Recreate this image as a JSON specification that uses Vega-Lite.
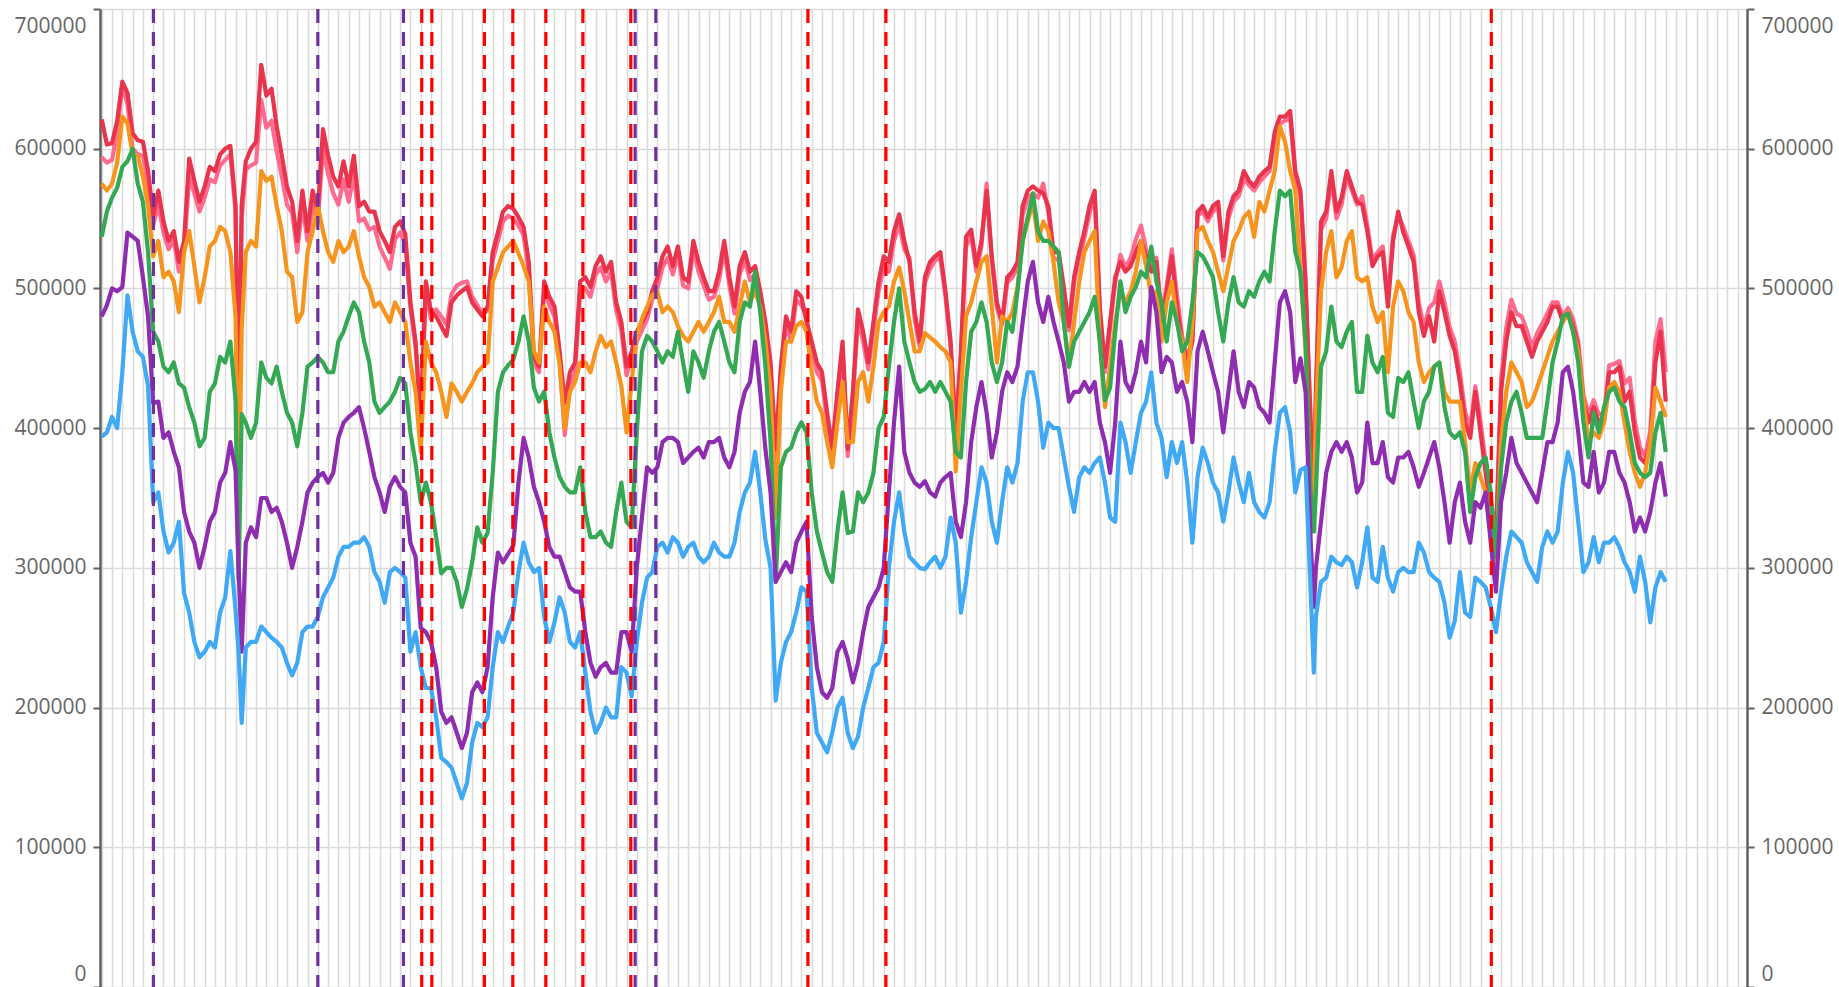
{
"$schema": "https://vega.github.io/schema/vega-lite/v6.json",
"width": 1647, "height": 978,
"autosize": {"type": "none"},
"padding": {"left": 100, "top": 9, "right": 92, "bottom": 0},
"background": "white",
"config": {
  "view": {"stroke": null},
  "axisX": {"grid": true, "labels": false, "ticks": false, "domain": false, "tickCount": 160, "gridColor": "#dadada", "gridWidth": 1.5},
  "axisY": {"tickCount": 7, "format": "d", "labelFont": "Open Sans", "labelFontSize": 21, "labelColor": "#666666", "domainColor": "#606060", "domainWidth": 2.5, "tickColor": "#606060", "tickSize": 7, "tickWidth": 2, "labelPadding": 7, "labelFlush": true, "gridColor": "#dadada", "gridWidth": 1.5,
            "labelOffset": {"condition": [{"test": "datum.value == 700000", "value": 6}, {"test": "datum.value == 0", "value": -3}], "value": 0}}
},
"datasets": {
"d": [
{"t":0,"p":594000,"r":621000,"o":575000,"g":537000,"v":480000,"b":394000},
{"t":0.5,"p":590000,"r":603000,"o":570000,"g":555000,"v":488000,"b":397000},
{"t":1,"p":592000,"r":604000,"o":575000,"g":565000,"v":500000,"b":408000},
{"t":1.5,"p":612000,"r":620000,"o":590000,"g":572000,"v":498000,"b":400000},
{"t":2,"p":645000,"r":648000,"o":623000,"g":587000,"v":501000,"b":440000},
{"t":2.5,"p":632000,"r":640000,"o":618000,"g":591000,"v":540000,"b":495000},
{"t":3,"p":600000,"r":611000,"o":596000,"g":600000,"v":537000,"b":469000},
{"t":3.5,"p":596000,"r":606000,"o":595000,"g":575000,"v":534000,"b":455000},
{"t":4,"p":595000,"r":605000,"o":580000,"g":562000,"v":508000,"b":451000},
{"t":4.5,"p":575000,"r":584000,"o":559000,"g":526000,"v":480000,"b":430000},
{"t":5,"p":545000,"r":552000,"o":523000,"g":469000,"v":418000,"b":347000},
{"t":5.5,"p":560000,"r":570000,"o":534000,"g":462000,"v":419000,"b":354000},
{"t":6,"p":540000,"r":548000,"o":508000,"g":444000,"v":393000,"b":326000},
{"t":6.5,"p":528000,"r":534000,"o":512000,"g":440000,"v":397000,"b":311000},
{"t":7,"p":535000,"r":541000,"o":505000,"g":447000,"v":383000,"b":318000},
{"t":7.5,"p":512000,"r":519000,"o":483000,"g":432000,"v":372000,"b":333000},
{"t":8,"p":526000,"r":534000,"o":526000,"g":429000,"v":340000,"b":282000},
{"t":8.5,"p":580000,"r":593000,"o":541000,"g":415000,"v":326000,"b":268000},
{"t":9,"p":568000,"r":577000,"o":516000,"g":404000,"v":318000,"b":247000},
{"t":9.5,"p":555000,"r":562000,"o":490000,"g":387000,"v":300000,"b":236000},
{"t":10,"p":565000,"r":573000,"o":508000,"g":393000,"v":315000,"b":240000},
{"t":10.5,"p":578000,"r":587000,"o":530000,"g":426000,"v":333000,"b":247000},
{"t":11,"p":576000,"r":584000,"o":534000,"g":432000,"v":340000,"b":243000},
{"t":11.5,"p":588000,"r":596000,"o":544000,"g":451000,"v":361000,"b":268000},
{"t":12,"p":592000,"r":600000,"o":541000,"g":447000,"v":368000,"b":279000},
{"t":12.5,"p":596000,"r":602000,"o":526000,"g":462000,"v":390000,"b":312000},
{"t":13,"p":555000,"r":560000,"o":480000,"g":420000,"v":370000,"b":270000},
{"t":13.3,"p":410000,"r":400000,"o":333000,"g":292000,"v":300000,"b":240000},
{"t":13.6,"p":550000,"r":560000,"o":470000,"g":410000,"v":240000,"b":189000},
{"t":14,"p":585000,"r":591000,"o":526000,"g":404000,"v":318000,"b":243000},
{"t":14.5,"p":588000,"r":600000,"o":534000,"g":393000,"v":329000,"b":247000},
{"t":15,"p":590000,"r":605000,"o":530000,"g":404000,"v":322000,"b":247000},
{"t":15.5,"p":635000,"r":660000,"o":584000,"g":447000,"v":350000,"b":258000},
{"t":16,"p":615000,"r":638000,"o":577000,"g":436000,"v":350000,"b":254000},
{"t":16.5,"p":620000,"r":643000,"o":580000,"g":432000,"v":340000,"b":250000},
{"t":17,"p":598000,"r":616000,"o":559000,"g":444000,"v":343000,"b":247000},
{"t":17.5,"p":580000,"r":595000,"o":541000,"g":426000,"v":333000,"b":243000},
{"t":18,"p":560000,"r":573000,"o":512000,"g":411000,"v":318000,"b":232000},
{"t":18.5,"p":554000,"r":562000,"o":508000,"g":404000,"v":300000,"b":223000},
{"t":19,"p":526000,"r":534000,"o":476000,"g":387000,"v":315000,"b":232000},
{"t":19.5,"p":560000,"r":570000,"o":483000,"g":411000,"v":333000,"b":254000},
{"t":20,"p":534000,"r":541000,"o":526000,"g":444000,"v":354000,"b":258000},
{"t":20.5,"p":560000,"r":570000,"o":541000,"g":447000,"v":361000,"b":258000},
{"t":21,"p":548000,"r":555000,"o":559000,"g":451000,"v":365000,"b":265000},
{"t":21.5,"p":600000,"r":614000,"o":541000,"g":447000,"v":368000,"b":279000},
{"t":22,"p":582000,"r":595000,"o":526000,"g":440000,"v":361000,"b":286000},
{"t":22.5,"p":568000,"r":580000,"o":519000,"g":440000,"v":368000,"b":293000},
{"t":23,"p":560000,"r":573000,"o":534000,"g":462000,"v":393000,"b":308000},
{"t":23.5,"p":578000,"r":591000,"o":526000,"g":469000,"v":404000,"b":315000},
{"t":24,"p":562000,"r":573000,"o":530000,"g":480000,"v":408000,"b":315000},
{"t":24.5,"p":582000,"r":595000,"o":541000,"g":490000,"v":411000,"b":318000},
{"t":25,"p":548000,"r":559000,"o":523000,"g":483000,"v":415000,"b":318000},
{"t":25.5,"p":550000,"r":562000,"o":508000,"g":462000,"v":400000,"b":322000},
{"t":26,"p":542000,"r":555000,"o":501000,"g":447000,"v":383000,"b":315000},
{"t":26.5,"p":544000,"r":555000,"o":487000,"g":419000,"v":365000,"b":297000},
{"t":27,"p":530000,"r":541000,"o":490000,"g":411000,"v":354000,"b":290000},
{"t":27.5,"p":522000,"r":534000,"o":483000,"g":415000,"v":340000,"b":275000},
{"t":28,"p":514000,"r":526000,"o":476000,"g":419000,"v":358000,"b":297000},
{"t":28.5,"p":535000,"r":544000,"o":490000,"g":426000,"v":365000,"b":300000},
{"t":29,"p":540000,"r":548000,"o":483000,"g":436000,"v":358000,"b":297000},
{"t":29.5,"p":532000,"r":539000,"o":476000,"g":432000,"v":354000,"b":293000},
{"t":30,"p":486000,"r":490000,"o":447000,"g":397000,"v":318000,"b":240000},
{"t":30.5,"p":458000,"r":462000,"o":426000,"g":375000,"v":308000,"b":254000},
{"t":31,"p":410000,"r":404000,"o":383000,"g":347000,"v":257000,"b":229000},
{"t":31.5,"p":498000,"r":505000,"o":462000,"g":361000,"v":254000,"b":214000},
{"t":32,"p":478000,"r":483000,"o":447000,"g":347000,"v":247000,"b":214000},
{"t":32.5,"p":485000,"r":480000,"o":440000,"g":322000,"v":229000,"b":193000},
{"t":33,"p":480000,"r":473000,"o":426000,"g":296000,"v":197000,"b":164000},
{"t":33.5,"p":474000,"r":466000,"o":408000,"g":300000,"v":189000,"b":161000},
{"t":34,"p":496000,"r":490000,"o":432000,"g":300000,"v":193000,"b":157000},
{"t":34.5,"p":502000,"r":495000,"o":426000,"g":290000,"v":182000,"b":146000},
{"t":35,"p":504000,"r":498000,"o":419000,"g":272000,"v":171000,"b":135000},
{"t":35.5,"p":505000,"r":501000,"o":426000,"g":285000,"v":182000,"b":146000},
{"t":36,"p":494000,"r":490000,"o":432000,"g":304000,"v":211000,"b":175000},
{"t":36.5,"p":488000,"r":485000,"o":440000,"g":329000,"v":218000,"b":189000},
{"t":37,"p":482000,"r":480000,"o":444000,"g":318000,"v":211000,"b":186000},
{"t":37.5,"p":484000,"r":487000,"o":447000,"g":325000,"v":229000,"b":193000},
{"t":38,"p":520000,"r":526000,"o":505000,"g":368000,"v":279000,"b":229000},
{"t":38.5,"p":534000,"r":540000,"o":515000,"g":426000,"v":311000,"b":254000},
{"t":39,"p":548000,"r":555000,"o":526000,"g":440000,"v":304000,"b":247000},
{"t":39.5,"p":552000,"r":559000,"o":530000,"g":445000,"v":310000,"b":258000},
{"t":40,"p":550000,"r":557000,"o":534000,"g":449000,"v":316000,"b":268000},
{"t":40.5,"p":545000,"r":551000,"o":525000,"g":462000,"v":361000,"b":297000},
{"t":41,"p":538000,"r":544000,"o":516000,"g":480000,"v":393000,"b":318000},
{"t":41.5,"p":512000,"r":519000,"o":505000,"g":462000,"v":379000,"b":304000},
{"t":42,"p":446000,"r":451000,"o":455000,"g":429000,"v":358000,"b":297000},
{"t":42.5,"p":440000,"r":444000,"o":447000,"g":419000,"v":347000,"b":300000},
{"t":43,"p":498000,"r":505000,"o":487000,"g":426000,"v":333000,"b":265000},
{"t":43.5,"p":488000,"r":494000,"o":476000,"g":397000,"v":315000,"b":247000},
{"t":44,"p":480000,"r":487000,"o":469000,"g":379000,"v":308000,"b":261000},
{"t":44.5,"p":448000,"r":455000,"o":445000,"g":365000,"v":308000,"b":279000},
{"t":45,"p":395000,"r":418000,"o":400000,"g":358000,"v":297000,"b":268000},
{"t":45.5,"p":432000,"r":440000,"o":426000,"g":354000,"v":286000,"b":247000},
{"t":46,"p":440000,"r":447000,"o":433000,"g":354000,"v":283000,"b":243000},
{"t":46.5,"p":498000,"r":505000,"o":447000,"g":372000,"v":283000,"b":254000},
{"t":47,"p":500000,"r":508000,"o":447000,"g":340000,"v":254000,"b":225000},
{"t":47.5,"p":494000,"r":501000,"o":440000,"g":322000,"v":232000,"b":197000},
{"t":48,"p":510000,"r":516000,"o":455000,"g":322000,"v":222000,"b":182000},
{"t":48.5,"p":515000,"r":523000,"o":466000,"g":326000,"v":229000,"b":189000},
{"t":49,"p":505000,"r":512000,"o":458000,"g":318000,"v":232000,"b":200000},
{"t":49.5,"p":512000,"r":519000,"o":462000,"g":315000,"v":225000,"b":193000},
{"t":50,"p":484000,"r":490000,"o":447000,"g":340000,"v":225000,"b":193000},
{"t":50.5,"p":470000,"r":476000,"o":430000,"g":361000,"v":254000,"b":229000},
{"t":51,"p":438000,"r":444000,"o":397000,"g":333000,"v":254000,"b":225000},
{"t":51.5,"p":450000,"r":455000,"o":433000,"g":329000,"v":240000,"b":208000},
{"t":52,"p":462000,"r":469000,"o":466000,"g":397000,"v":300000,"b":247000},
{"t":52.5,"p":470000,"r":476000,"o":478000,"g":455000,"v":336000,"b":275000},
{"t":53,"p":478000,"r":483000,"o":487000,"g":466000,"v":372000,"b":293000},
{"t":53.5,"p":492000,"r":498000,"o":495000,"g":462000,"v":368000,"b":297000},
{"t":54,"p":500000,"r":508000,"o":498000,"g":455000,"v":372000,"b":315000},
{"t":54.5,"p":515000,"r":523000,"o":483000,"g":447000,"v":390000,"b":318000},
{"t":55,"p":522000,"r":530000,"o":487000,"g":455000,"v":393000,"b":311000},
{"t":55.5,"p":510000,"r":516000,"o":483000,"g":451000,"v":393000,"b":322000},
{"t":56,"p":524000,"r":530000,"o":473000,"g":469000,"v":390000,"b":318000},
{"t":56.5,"p":502000,"r":508000,"o":466000,"g":447000,"v":375000,"b":308000},
{"t":57,"p":500000,"r":505000,"o":462000,"g":426000,"v":379000,"b":315000},
{"t":57.5,"p":528000,"r":534000,"o":469000,"g":455000,"v":383000,"b":318000},
{"t":58,"p":512000,"r":519000,"o":476000,"g":447000,"v":386000,"b":308000},
{"t":58.5,"p":502000,"r":508000,"o":469000,"g":436000,"v":379000,"b":304000},
{"t":59,"p":492000,"r":498000,"o":476000,"g":455000,"v":390000,"b":308000},
{"t":59.5,"p":494000,"r":498000,"o":483000,"g":469000,"v":390000,"b":318000},
{"t":60,"p":506000,"r":512000,"o":494000,"g":476000,"v":393000,"b":311000},
{"t":60.5,"p":528000,"r":534000,"o":476000,"g":462000,"v":379000,"b":308000},
{"t":61,"p":502000,"r":508000,"o":476000,"g":447000,"v":372000,"b":308000},
{"t":61.5,"p":482000,"r":487000,"o":469000,"g":440000,"v":383000,"b":318000},
{"t":62,"p":510000,"r":516000,"o":487000,"g":476000,"v":411000,"b":340000},
{"t":62.5,"p":520000,"r":526000,"o":505000,"g":490000,"v":426000,"b":354000},
{"t":63,"p":506000,"r":512000,"o":490000,"g":487000,"v":433000,"b":361000},
{"t":63.5,"p":510000,"r":516000,"o":498000,"g":512000,"v":462000,"b":383000},
{"t":64,"p":492000,"r":498000,"o":487000,"g":483000,"v":426000,"b":354000},
{"t":64.5,"p":470000,"r":476000,"o":462000,"g":444000,"v":385000,"b":320000},
{"t":65,"p":440000,"r":447000,"o":426000,"g":390000,"v":354000,"b":300000},
{"t":65.5,"p":375000,"r":385000,"o":336000,"g":290000,"v":290000,"b":205000},
{"t":66,"p":438000,"r":444000,"o":426000,"g":372000,"v":297000,"b":232000},
{"t":66.5,"p":474000,"r":480000,"o":462000,"g":383000,"v":304000,"b":247000},
{"t":67,"p":462000,"r":469000,"o":462000,"g":386000,"v":297000,"b":254000},
{"t":67.5,"p":492000,"r":498000,"o":473000,"g":397000,"v":318000,"b":268000},
{"t":68,"p":488000,"r":494000,"o":476000,"g":404000,"v":326000,"b":286000},
{"t":68.5,"p":480000,"r":476000,"o":469000,"g":397000,"v":333000,"b":283000},
{"t":69,"p":456000,"r":462000,"o":440000,"g":354000,"v":265000,"b":214000},
{"t":69.5,"p":440000,"r":447000,"o":419000,"g":326000,"v":229000,"b":182000},
{"t":70,"p":434000,"r":440000,"o":411000,"g":311000,"v":211000,"b":175000},
{"t":70.5,"p":405000,"r":411000,"o":390000,"g":297000,"v":207000,"b":168000},
{"t":71,"p":380000,"r":386000,"o":372000,"g":290000,"v":214000,"b":182000},
{"t":71.5,"p":420000,"r":426000,"o":404000,"g":326000,"v":240000,"b":200000},
{"t":72,"p":456000,"r":462000,"o":433000,"g":354000,"v":247000,"b":207000},
{"t":72.5,"p":380000,"r":385000,"o":390000,"g":325000,"v":235000,"b":182000},
{"t":73,"p":420000,"r":426000,"o":390000,"g":326000,"v":218000,"b":171000},
{"t":73.5,"p":478000,"r":485000,"o":433000,"g":354000,"v":232000,"b":179000},
{"t":74,"p":462000,"r":469000,"o":440000,"g":347000,"v":254000,"b":200000},
{"t":74.5,"p":442000,"r":447000,"o":419000,"g":354000,"v":272000,"b":214000},
{"t":75,"p":470000,"r":476000,"o":444000,"g":368000,"v":279000,"b":229000},
{"t":75.5,"p":498000,"r":505000,"o":476000,"g":400000,"v":286000,"b":232000},
{"t":76,"p":516000,"r":523000,"o":483000,"g":408000,"v":300000,"b":247000},
{"t":76.5,"p":512000,"r":519000,"o":487000,"g":444000,"v":354000,"b":300000},
{"t":77,"p":534000,"r":541000,"o":505000,"g":476000,"v":404000,"b":333000},
{"t":77.5,"p":546000,"r":553000,"o":515000,"g":500000,"v":444000,"b":354000},
{"t":78,"p":528000,"r":534000,"o":498000,"g":462000,"v":383000,"b":326000},
{"t":78.5,"p":522000,"r":519000,"o":476000,"g":447000,"v":368000,"b":308000},
{"t":79,"p":478000,"r":483000,"o":455000,"g":433000,"v":361000,"b":304000},
{"t":79.5,"p":458000,"r":462000,"o":455000,"g":426000,"v":358000,"b":300000},
{"t":80,"p":504000,"r":508000,"o":468000,"g":428000,"v":362000,"b":299000},
{"t":80.5,"p":514000,"r":519000,"o":465000,"g":433000,"v":354000,"b":304000},
{"t":81,"p":520000,"r":523000,"o":462000,"g":426000,"v":351000,"b":308000},
{"t":81.5,"p":522000,"r":526000,"o":458000,"g":433000,"v":361000,"b":300000},
{"t":82,"p":494000,"r":498000,"o":455000,"g":426000,"v":365000,"b":308000},
{"t":82.5,"p":458000,"r":462000,"o":447000,"g":419000,"v":368000,"b":336000},
{"t":83,"p":395000,"r":397000,"o":369000,"g":383000,"v":333000,"b":318000},
{"t":83.5,"p":450000,"r":455000,"o":426000,"g":379000,"v":322000,"b":268000},
{"t":84,"p":530000,"r":537000,"o":480000,"g":433000,"v":347000,"b":290000},
{"t":84.5,"p":538000,"r":542000,"o":490000,"g":469000,"v":390000,"b":322000},
{"t":85,"p":512000,"r":516000,"o":505000,"g":476000,"v":415000,"b":347000},
{"t":85.5,"p":530000,"r":534000,"o":519000,"g":490000,"v":433000,"b":372000},
{"t":86,"p":575000,"r":570000,"o":523000,"g":476000,"v":411000,"b":361000},
{"t":86.5,"p":520000,"r":523000,"o":487000,"g":447000,"v":379000,"b":333000},
{"t":87,"p":486000,"r":490000,"o":447000,"g":433000,"v":397000,"b":318000},
{"t":87.5,"p":474000,"r":476000,"o":480000,"g":447000,"v":426000,"b":347000},
{"t":88,"p":504000,"r":508000,"o":476000,"g":476000,"v":440000,"b":372000},
{"t":88.5,"p":508000,"r":512000,"o":483000,"g":469000,"v":433000,"b":361000},
{"t":89,"p":515000,"r":519000,"o":501000,"g":498000,"v":444000,"b":375000},
{"t":89.5,"p":552000,"r":559000,"o":534000,"g":534000,"v":476000,"b":419000},
{"t":90,"p":565000,"r":570000,"o":548000,"g":551000,"v":505000,"b":440000},
{"t":90.5,"p":568000,"r":573000,"o":562000,"g":568000,"v":519000,"b":440000},
{"t":91,"p":565000,"r":570000,"o":534000,"g":541000,"v":490000,"b":419000},
{"t":91.5,"p":575000,"r":568000,"o":548000,"g":534000,"v":476000,"b":386000},
{"t":92,"p":554000,"r":559000,"o":541000,"g":534000,"v":494000,"b":404000},
{"t":92.5,"p":522000,"r":526000,"o":519000,"g":530000,"v":476000,"b":400000},
{"t":93,"p":520000,"r":526000,"o":490000,"g":526000,"v":462000,"b":400000},
{"t":93.5,"p":496000,"r":501000,"o":476000,"g":476000,"v":447000,"b":379000},
{"t":94,"p":470000,"r":473000,"o":444000,"g":444000,"v":419000,"b":358000},
{"t":94.5,"p":504000,"r":508000,"o":476000,"g":462000,"v":426000,"b":340000},
{"t":95,"p":522000,"r":526000,"o":505000,"g":469000,"v":426000,"b":365000},
{"t":95.5,"p":536000,"r":541000,"o":526000,"g":476000,"v":433000,"b":372000},
{"t":96,"p":554000,"r":559000,"o":534000,"g":483000,"v":426000,"b":368000},
{"t":96.5,"p":566000,"r":570000,"o":541000,"g":494000,"v":433000,"b":375000},
{"t":97,"p":482000,"r":487000,"o":462000,"g":462000,"v":404000,"b":379000},
{"t":97.5,"p":440000,"r":444000,"o":415000,"g":420000,"v":390000,"b":361000},
{"t":98,"p":472000,"r":476000,"o":444000,"g":429000,"v":368000,"b":336000},
{"t":98.5,"p":504000,"r":508000,"o":476000,"g":469000,"v":404000,"b":333000},
{"t":99,"p":524000,"r":519000,"o":498000,"g":505000,"v":462000,"b":404000},
{"t":99.5,"p":515000,"r":512000,"o":490000,"g":483000,"v":433000,"b":390000},
{"t":100,"p":522000,"r":516000,"o":498000,"g":494000,"v":426000,"b":368000},
{"t":100.5,"p":535000,"r":526000,"o":512000,"g":501000,"v":440000,"b":390000},
{"t":101,"p":545000,"r":534000,"o":534000,"g":512000,"v":462000,"b":411000},
{"t":101.5,"p":528000,"r":523000,"o":516000,"g":508000,"v":447000,"b":419000},
{"t":102,"p":516000,"r":512000,"o":494000,"g":530000,"v":501000,"b":440000},
{"t":102.5,"p":522000,"r":519000,"o":498000,"g":505000,"v":483000,"b":404000},
{"t":103,"p":480000,"r":476000,"o":462000,"g":490000,"v":440000,"b":393000},
{"t":103.5,"p":502000,"r":498000,"o":490000,"g":462000,"v":451000,"b":365000},
{"t":104,"p":528000,"r":523000,"o":505000,"g":490000,"v":447000,"b":390000},
{"t":104.5,"p":495000,"r":487000,"o":476000,"g":476000,"v":426000,"b":375000},
{"t":105,"p":466000,"r":462000,"o":462000,"g":455000,"v":433000,"b":390000},
{"t":105.5,"p":450000,"r":447000,"o":433000,"g":462000,"v":419000,"b":361000},
{"t":106,"p":465000,"r":462000,"o":476000,"g":490000,"v":390000,"b":318000},
{"t":106.5,"p":552000,"r":555000,"o":541000,"g":526000,"v":455000,"b":365000},
{"t":107,"p":555000,"r":559000,"o":544000,"g":523000,"v":469000,"b":386000},
{"t":107.5,"p":548000,"r":551000,"o":534000,"g":516000,"v":455000,"b":375000},
{"t":108,"p":555000,"r":559000,"o":526000,"g":508000,"v":440000,"b":361000},
{"t":108.5,"p":558000,"r":562000,"o":512000,"g":483000,"v":426000,"b":354000},
{"t":109,"p":520000,"r":523000,"o":498000,"g":462000,"v":397000,"b":333000},
{"t":109.5,"p":550000,"r":555000,"o":516000,"g":490000,"v":426000,"b":354000},
{"t":110,"p":562000,"r":566000,"o":534000,"g":508000,"v":455000,"b":379000},
{"t":110.5,"p":566000,"r":570000,"o":541000,"g":490000,"v":426000,"b":361000},
{"t":111,"p":578000,"r":584000,"o":551000,"g":487000,"v":415000,"b":347000},
{"t":111.5,"p":574000,"r":577000,"o":555000,"g":498000,"v":433000,"b":368000},
{"t":112,"p":570000,"r":573000,"o":537000,"g":494000,"v":429000,"b":347000},
{"t":112.5,"p":576000,"r":580000,"o":562000,"g":505000,"v":415000,"b":340000},
{"t":113,"p":580000,"r":584000,"o":555000,"g":512000,"v":411000,"b":336000},
{"t":113.5,"p":584000,"r":587000,"o":570000,"g":505000,"v":404000,"b":347000},
{"t":114,"p":606000,"r":612000,"o":584000,"g":541000,"v":447000,"b":383000},
{"t":114.5,"p":618000,"r":623000,"o":616000,"g":570000,"v":490000,"b":411000},
{"t":115,"p":620000,"r":623000,"o":605000,"g":566000,"v":498000,"b":415000},
{"t":115.5,"p":622000,"r":627000,"o":584000,"g":570000,"v":483000,"b":397000},
{"t":116,"p":580000,"r":584000,"o":570000,"g":526000,"v":433000,"b":354000},
{"t":116.5,"p":566000,"r":570000,"o":512000,"g":512000,"v":450000,"b":370000},
{"t":117,"p":500000,"r":505000,"o":455000,"g":462000,"v":426000,"b":372000},
{"t":117.5,"p":405000,"r":400000,"o":354000,"g":354000,"v":318000,"b":282000},
{"t":117.8,"p":365000,"r":360000,"o":350000,"g":326000,"v":272000,"b":225000},
{"t":118,"p":420000,"r":426000,"o":411000,"g":354000,"v":300000,"b":265000},
{"t":118.5,"p":542000,"r":548000,"o":498000,"g":444000,"v":333000,"b":290000},
{"t":119,"p":550000,"r":555000,"o":526000,"g":455000,"v":368000,"b":293000},
{"t":119.5,"p":578000,"r":584000,"o":541000,"g":487000,"v":383000,"b":308000},
{"t":120,"p":550000,"r":555000,"o":508000,"g":462000,"v":390000,"b":304000},
{"t":120.5,"p":560000,"r":565000,"o":515000,"g":458000,"v":383000,"b":302000},
{"t":121,"p":580000,"r":584000,"o":534000,"g":469000,"v":390000,"b":308000},
{"t":121.5,"p":570000,"r":573000,"o":541000,"g":476000,"v":379000,"b":304000},
{"t":122,"p":560000,"r":562000,"o":508000,"g":426000,"v":354000,"b":286000},
{"t":122.5,"p":566000,"r":560000,"o":505000,"g":426000,"v":361000,"b":304000},
{"t":123,"p":545000,"r":541000,"o":508000,"g":466000,"v":404000,"b":329000},
{"t":123.5,"p":520000,"r":516000,"o":487000,"g":447000,"v":375000,"b":293000},
{"t":124,"p":526000,"r":523000,"o":476000,"g":440000,"v":375000,"b":290000},
{"t":124.5,"p":530000,"r":526000,"o":483000,"g":451000,"v":390000,"b":315000},
{"t":125,"p":492000,"r":487000,"o":440000,"g":411000,"v":365000,"b":293000},
{"t":125.5,"p":538000,"r":534000,"o":487000,"g":408000,"v":361000,"b":283000},
{"t":126,"p":552000,"r":555000,"o":505000,"g":436000,"v":379000,"b":297000},
{"t":126.5,"p":544000,"r":540000,"o":498000,"g":433000,"v":379000,"b":300000},
{"t":127,"p":534000,"r":530000,"o":483000,"g":440000,"v":383000,"b":297000},
{"t":127.5,"p":524000,"r":519000,"o":476000,"g":419000,"v":372000,"b":297000},
{"t":128,"p":490000,"r":483000,"o":447000,"g":400000,"v":358000,"b":318000},
{"t":128.5,"p":472000,"r":466000,"o":433000,"g":419000,"v":368000,"b":311000},
{"t":129,"p":486000,"r":480000,"o":440000,"g":426000,"v":379000,"b":297000},
{"t":129.5,"p":490000,"r":462000,"o":444000,"g":444000,"v":390000,"b":293000},
{"t":130,"p":505000,"r":498000,"o":447000,"g":447000,"v":372000,"b":290000},
{"t":130.5,"p":490000,"r":483000,"o":426000,"g":415000,"v":347000,"b":275000},
{"t":131,"p":472000,"r":466000,"o":419000,"g":397000,"v":318000,"b":250000},
{"t":131.5,"p":462000,"r":455000,"o":419000,"g":393000,"v":347000,"b":262000},
{"t":132,"p":440000,"r":433000,"o":419000,"g":397000,"v":361000,"b":297000},
{"t":132.5,"p":412000,"r":404000,"o":390000,"g":383000,"v":333000,"b":268000},
{"t":133,"p":400000,"r":393000,"o":354000,"g":340000,"v":318000,"b":265000},
{"t":133.5,"p":430000,"r":426000,"o":375000,"g":365000,"v":347000,"b":293000},
{"t":134,"p":405000,"r":397000,"o":365000,"g":375000,"v":343000,"b":290000},
{"t":134.5,"p":375000,"r":368000,"o":354000,"g":379000,"v":354000,"b":286000},
{"t":135,"p":345000,"r":340000,"o":326000,"g":354000,"v":318000,"b":272000},
{"t":135.5,"p":325000,"r":320000,"o":304000,"g":308000,"v":283000,"b":254000},
{"t":136,"p":435000,"r":426000,"o":390000,"g":372000,"v":347000,"b":283000},
{"t":136.5,"p":472000,"r":462000,"o":426000,"g":404000,"v":368000,"b":308000},
{"t":137,"p":492000,"r":483000,"o":447000,"g":419000,"v":393000,"b":326000},
{"t":137.5,"p":482000,"r":473000,"o":440000,"g":426000,"v":375000,"b":322000},
{"t":138,"p":480000,"r":473000,"o":433000,"g":411000,"v":368000,"b":318000},
{"t":138.5,"p":470000,"r":462000,"o":415000,"g":393000,"v":361000,"b":304000},
{"t":139,"p":458000,"r":451000,"o":419000,"g":393000,"v":354000,"b":297000},
{"t":139.5,"p":468000,"r":462000,"o":429000,"g":393000,"v":347000,"b":290000},
{"t":140,"p":475000,"r":469000,"o":440000,"g":393000,"v":368000,"b":315000},
{"t":140.5,"p":482000,"r":476000,"o":451000,"g":419000,"v":390000,"b":326000},
{"t":141,"p":490000,"r":487000,"o":462000,"g":447000,"v":390000,"b":318000},
{"t":141.5,"p":490000,"r":487000,"o":469000,"g":462000,"v":404000,"b":326000},
{"t":142,"p":480000,"r":476000,"o":476000,"g":480000,"v":440000,"b":361000},
{"t":142.5,"p":486000,"r":483000,"o":483000,"g":482000,"v":444000,"b":383000},
{"t":143,"p":478000,"r":473000,"o":469000,"g":469000,"v":426000,"b":368000},
{"t":143.5,"p":462000,"r":458000,"o":455000,"g":447000,"v":397000,"b":333000},
{"t":144,"p":424000,"r":419000,"o":419000,"g":404000,"v":361000,"b":297000},
{"t":144.5,"p":410000,"r":404000,"o":390000,"g":379000,"v":358000,"b":304000},
{"t":145,"p":420000,"r":415000,"o":397000,"g":411000,"v":383000,"b":322000},
{"t":145.5,"p":410000,"r":404000,"o":393000,"g":397000,"v":354000,"b":304000},
{"t":146,"p":410000,"r":404000,"o":404000,"g":415000,"v":361000,"b":318000},
{"t":146.5,"p":445000,"r":440000,"o":429000,"g":426000,"v":383000,"b":318000},
{"t":147,"p":446000,"r":440000,"o":433000,"g":429000,"v":383000,"b":322000},
{"t":147.5,"p":448000,"r":444000,"o":426000,"g":419000,"v":368000,"b":315000},
{"t":148,"p":432000,"r":419000,"o":404000,"g":415000,"v":361000,"b":304000},
{"t":148.5,"p":436000,"r":426000,"o":383000,"g":397000,"v":347000,"b":297000},
{"t":149,"p":405000,"r":397000,"o":368000,"g":375000,"v":326000,"b":283000},
{"t":149.5,"p":386000,"r":379000,"o":358000,"g":368000,"v":336000,"b":308000},
{"t":150,"p":380000,"r":375000,"o":368000,"g":365000,"v":326000,"b":290000},
{"t":150.5,"p":398000,"r":390000,"o":390000,"g":368000,"v":340000,"b":261000},
{"t":151,"p":462000,"r":447000,"o":429000,"g":397000,"v":361000,"b":286000},
{"t":151.5,"p":478000,"r":469000,"o":419000,"g":411000,"v":375000,"b":297000},
{"t":152,"p":440000,"r":419000,"o":408000,"g":383000,"v":351000,"b":290000}
],
"ev": [
{"t":5.02,"c":"p"},{"t":21.0,"c":"p"},{"t":29.32,"c":"p"},{"t":51.84,"c":"p"},{"t":53.85,"c":"p"},
{"t":31.1,"c":"r"},{"t":32.08,"c":"r"},{"t":37.19,"c":"r"},{"t":39.95,"c":"r"},{"t":43.16,"c":"r"},{"t":46.76,"c":"r"},{"t":51.42,"c":"r"},{"t":68.63,"c":"r"},{"t":76.21,"c":"r"},{"t":135.05,"c":"r"}
]
},
"layer": [
  {
    "layer": [
      {"data": {"name": "d"}, "mark": {"type": "line", "color": "#ff6b8f", "strokeWidth": 4.2, "strokeJoin": "round"},
       "encoding": {"x": {"field": "t", "type": "quantitative", "title": null, "scale": {"domain": [-0.17, 159.9], "nice": false, "zero": false}},
                    "y": {"field": "p", "type": "quantitative", "title": null, "scale": {"domain": [0, 700000], "nice": false}}}},
      {"data": {"name": "d"}, "mark": {"type": "line", "color": "#e8344c", "strokeWidth": 4.2, "strokeJoin": "round"},
       "encoding": {"x": {"field": "t", "type": "quantitative", "title": null},
                    "y": {"field": "r", "type": "quantitative", "title": null}}},
      {"data": {"name": "d"}, "mark": {"type": "line", "color": "#f7941d", "strokeWidth": 4.2, "strokeJoin": "round"},
       "encoding": {"x": {"field": "t", "type": "quantitative", "title": null},
                    "y": {"field": "o", "type": "quantitative", "title": null}}},
      {"data": {"name": "d"}, "mark": {"type": "line", "color": "#34a853", "strokeWidth": 4.2, "strokeJoin": "round"},
       "encoding": {"x": {"field": "t", "type": "quantitative", "title": null},
                    "y": {"field": "g", "type": "quantitative", "title": null}}},
      {"data": {"name": "d"}, "mark": {"type": "line", "color": "#8e2db0", "strokeWidth": 4.2, "strokeJoin": "round"},
       "encoding": {"x": {"field": "t", "type": "quantitative", "title": null},
                    "y": {"field": "v", "type": "quantitative", "title": null}}},
      {"data": {"name": "d"}, "mark": {"type": "line", "color": "#3fa9f5", "strokeWidth": 4.2, "strokeJoin": "round"},
       "encoding": {"x": {"field": "t", "type": "quantitative", "title": null},
                    "y": {"field": "b", "type": "quantitative", "title": null}}},
      {"data": {"name": "ev"}, "mark": {"type": "rule", "strokeWidth": 3.2, "strokeDash": [14, 9]},
       "encoding": {"x": {"field": "t", "type": "quantitative", "title": null},
                    "color": {"field": "c", "type": "nominal", "scale": {"domain": ["p", "r"], "range": ["#7030a0", "#ff0000"]}, "legend": null}}}
    ]
  },
  {
    "data": {"name": "d"},
    "mark": {"type": "line", "opacity": 0},
    "encoding": {"x": {"field": "t", "type": "quantitative", "title": null},
                 "y": {"field": "r", "type": "quantitative", "title": null, "scale": {"domain": [0, 700000], "nice": false}, "axis": {"orient": "right", "grid": false}}}
  }
],
"resolve": {"scale": {"y": "independent"}, "axis": {"y": "independent"}}
}
